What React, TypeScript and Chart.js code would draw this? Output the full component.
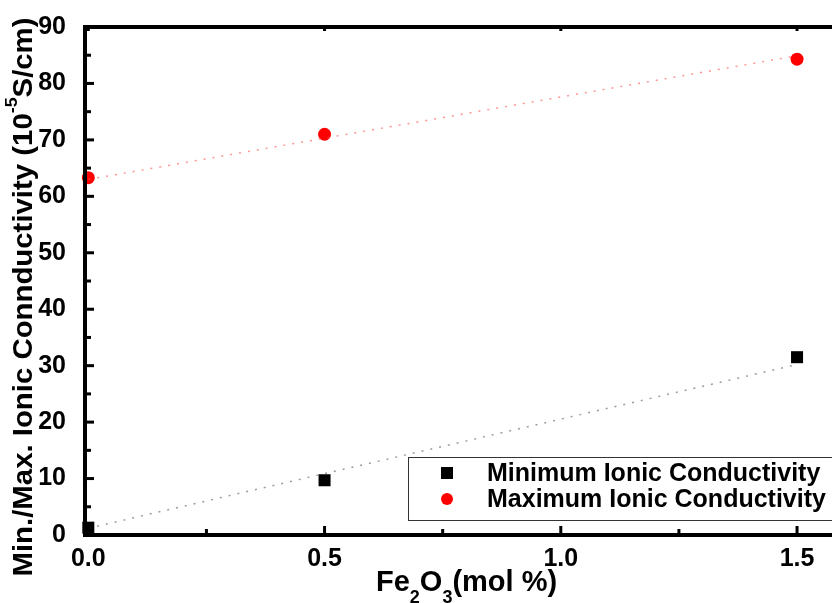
import React, { useEffect, useRef } from "react";
import { Chart, registerables } from "chart.js";

Chart.register(...registerables);

// ---- data ----
const fe2o3 = [0, 0.5, 1.5];
const minConductivity = [1.3, 9.7, 31.5];
const maxConductivity = [63.3, 71.0, 84.3];
const trendX = [0, 1.5];
const minTrend = [1.2, 30.2];
const maxTrend = [63.0, 84.9];
const xTickLabels = [0, 0.5, 1.0, 1.5];
const xMinorTicks = [0.25, 0.75, 1.25];
const yMajorTicks = [0, 10, 20, 30, 40, 50, 60, 70, 80, 90];
const yMinorTicks = [5, 15, 25, 35, 45, 55, 65, 75, 85];
const seriesNames = ["Minimum Ionic Conductivity", "Maximum Ionic Conductivity"];

const FONT = '"Liberation Sans", Arial, Helvetica, sans-serif';

const framePlugin = {
  id: "frame",
  afterDraw(chart: any) {
    const { ctx, chartArea, scales } = chart;
    const xs = scales.x;
    const ys = scales.y;
    const L = chartArea.left;
    const B = chartArea.bottom;
    const T = chartArea.top;
    const R = chart.width;
    ctx.save();
    ctx.strokeStyle = "#000";
    ctx.lineCap = "butt";
    // ticks
    ctx.lineWidth = 3;
    yMajorTicks.forEach((v) => {
      const y = ys.getPixelForValue(v);
      ctx.beginPath();
      ctx.moveTo(L, y);
      ctx.lineTo(L + 9, y);
      ctx.stroke();
    });
    yMinorTicks.forEach((v) => {
      const y = ys.getPixelForValue(v);
      ctx.beginPath();
      ctx.moveTo(L, y);
      ctx.lineTo(L + 6, y);
      ctx.stroke();
    });
    xTickLabels.forEach((v) => {
      const x = xs.getPixelForValue(v);
      ctx.beginPath();
      ctx.moveTo(x, B);
      ctx.lineTo(x, B - 9);
      ctx.stroke();
      ctx.beginPath();
      ctx.moveTo(x, T);
      ctx.lineTo(x, T + 4);
      ctx.stroke();
    });
    xMinorTicks.forEach((v) => {
      const x = xs.getPixelForValue(v);
      ctx.beginPath();
      ctx.moveTo(x, B);
      ctx.lineTo(x, B - 6);
      ctx.stroke();
    });
    // axis lines
    ctx.lineWidth = 4;
    ctx.beginPath();
    ctx.moveTo(L, T - 2);
    ctx.lineTo(L, B + 2);
    ctx.stroke();
    ctx.beginPath();
    ctx.moveTo(L - 2, B);
    ctx.lineTo(R, B);
    ctx.stroke();
    ctx.beginPath();
    ctx.moveTo(L - 2, T);
    ctx.lineTo(R, T);
    ctx.stroke();

    // Y title with superscript
    ctx.fillStyle = "#000";
    ctx.translate(24, 297);
    ctx.rotate(-Math.PI / 2);
    const big = `bold 28px ${FONT}`;
    const small = `bold 17px ${FONT}`;
    const p1 = "Min./Max. Ionic Connductivity (10";
    const p2 = "-5";
    const p3 = "S/cm)";
    ctx.font = big;
    const w1 = ctx.measureText(p1).width;
    const w3 = ctx.measureText(p3).width;
    ctx.font = small;
    const w2 = ctx.measureText(p2).width;
    const total = w1 + w2 + w3;
    const stretch = 559 / total;
    ctx.scale(stretch, 1);
    let cx = -total / 2;
    ctx.textBaseline = "middle";
    ctx.textAlign = "left";
    ctx.font = big;
    ctx.fillText(p1, cx, 0);
    cx += w1;
    ctx.font = small;
    ctx.fillText(p2, cx, -12);
    cx += w2;
    ctx.font = big;
    ctx.fillText(p3, cx, 0);
    ctx.restore();

    // X title with subscripts
    ctx.save();
    ctx.fillStyle = "#000";
    ctx.textBaseline = "alphabetic";
    ctx.textAlign = "left";
    const xBig = `bold 29px ${FONT}`;
    const xSmall = `bold 18px ${FONT}`;
    const parts: [string, boolean][] = [
      ["Fe", false],
      ["2", true],
      ["O", false],
      ["3", true],
      ["(mol %)", false],
    ];
    let px = 376;
    const baseY = 591;
    parts.forEach(([s, sub]) => {
      ctx.font = sub ? xSmall : xBig;
      ctx.fillText(s, px, sub ? baseY + 12 : baseY);
      px += ctx.measureText(s).width;
    });
    ctx.restore();

    // legend
    ctx.save();
    const lx = 408;
    const ly = 457;
    ctx.fillStyle = "#fff";
    ctx.fillRect(lx, ly, R - lx + 10, 64);
    ctx.strokeStyle = "#333";
    ctx.lineWidth = 1;
    ctx.strokeRect(lx + 0.5, ly + 0.5, R - lx + 10, 63);
    ctx.fillStyle = "#000";
    ctx.fillRect(441, 467, 12, 12);
    ctx.fillStyle = "#ff0000";
    ctx.beginPath();
    ctx.arc(447, 499, 6, 0, Math.PI * 2);
    ctx.fill();
    ctx.fillStyle = "#000";
    ctx.font = `bold 25px ${FONT}`;
    ctx.textBaseline = "middle";
    ctx.textAlign = "left";
    ctx.fillText(seriesNames[0], 487, 474);
    ctx.fillText(seriesNames[1], 487, 500);
    ctx.restore();
  },
};

export default function App() {
  const ref = useRef<HTMLCanvasElement | null>(null);
  useEffect(() => {
    if (!ref.current) return;
    const chart = new Chart(ref.current, {
      type: "scatter",
      data: {
        datasets: [
          {
            label: "minTrend",
            data: trendX.map((x, i) => ({ x, y: minTrend[i] })),
            showLine: true,
            borderColor: "rgba(90,90,90,0.6)",
            borderWidth: 1.5,
            borderDash: [2, 7],
            pointRadius: 0,
          },
          {
            label: "maxTrend",
            data: trendX.map((x, i) => ({ x, y: maxTrend[i] })),
            showLine: true,
            borderColor: "rgba(255,80,80,0.6)",
            borderWidth: 1.5,
            borderDash: [2, 7],
            pointRadius: 0,
          },
          {
            label: seriesNames[0],
            data: fe2o3.map((x, i) => ({ x, y: minConductivity[i] })),
            pointStyle: "rect",
            pointRadius: 8.5,
            backgroundColor: "#000",
            borderColor: "#000",
            borderWidth: 0,
            clip: false,
          },
          {
            label: seriesNames[1],
            data: fe2o3.map((x, i) => ({ x, y: maxConductivity[i] })),
            pointStyle: "circle",
            pointRadius: 6.5,
            backgroundColor: "#ff0000",
            borderColor: "#ff0000",
            borderWidth: 0,
            clip: false,
          },
        ],
      },
      options: {
        responsive: false,
        animation: false,
        events: [],
        layout: { padding: { top: 27, right: 0, left: 0, bottom: 0 } },
        plugins: { legend: { display: false }, tooltip: { enabled: false } },
        scales: {
          x: {
            type: "linear",
            min: -0.007,
            max: 1.556,
            grid: { display: false, drawTicks: false },
            border: { display: false },
            afterBuildTicks: (s: any) => {
              s.ticks = xTickLabels.map((v) => ({ value: v }));
            },
            afterFit: (s: any) => {
              s.height = 68;
              s.paddingLeft = 0;
              s.paddingRight = 0;
            },
            ticks: {
              padding: 9,
              color: "#000",
              font: { family: FONT, size: 25, weight: "bold" },
              maxRotation: 0,
              autoSkip: false,
              callback: (v: any) => Number(v).toFixed(1),
            },
          },
          y: {
            type: "linear",
            min: 0,
            max: 90,
            grid: { display: false, drawTicks: false },
            border: { display: false },
            afterBuildTicks: (s: any) => {
              s.ticks = yMajorTicks.map((v) => ({ value: v }));
            },
            afterFit: (s: any) => {
              s.width = 85;
              s.paddingTop = 0;
              s.paddingBottom = 0;
            },
            ticks: {
              padding: 19,
              color: "#000",
              font: { family: FONT, size: 25, weight: "bold" },
              callback: (v: any) => String(v),
            },
          },
        },
      },
      plugins: [framePlugin],
    } as any);
    return () => chart.destroy();
  }, []);
  return (
    <div style={{ position: "absolute", left: 0, top: 0, width: 832, height: 603, overflow: "hidden", background: "#fff" }}>
      <canvas ref={ref} width={832} height={603} style={{ width: 832, height: 603, display: "block" }} />
    </div>
  );
}
